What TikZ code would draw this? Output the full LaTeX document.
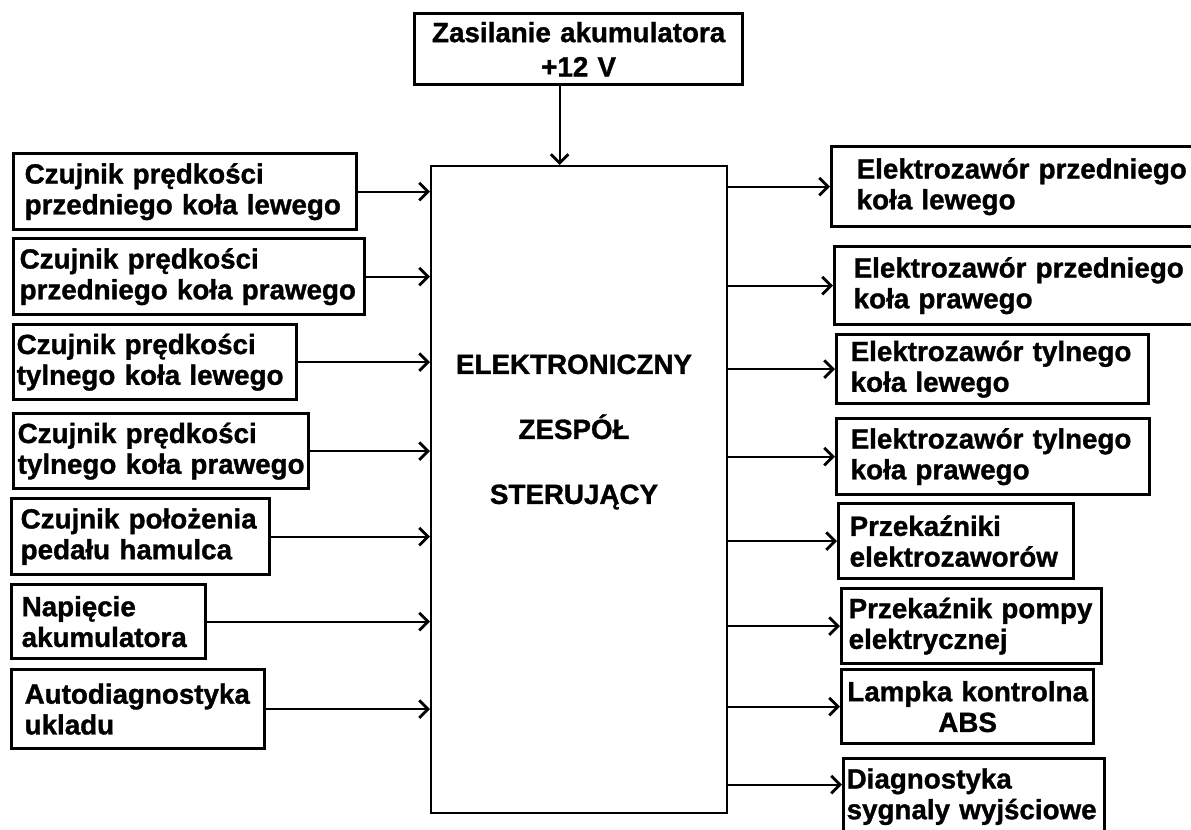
\documentclass[tikz,border=0pt]{standalone}
\usepackage{fontspec}
\setmainfont{Liberation Sans}[BoldFeatures={FakeBold=1.2}]
\usetikzlibrary{arrows.meta}

\begin{document}
\begin{tikzpicture}[x=0.02cm,y=-0.02cm,
  blk/.style={draw,line width=1.9pt,anchor=north west,align=left,inner ysep=0pt,
    font=\fontsize{15.8}{17.5}\selectfont\bfseries},
  arr/.style={line width=1.1pt,-{Straight Barb[length=5pt,width=10pt,line width=1.6pt]}}]
  % Frame
  \clip (0,0) rectangle (1191,829);
  % Control unit
  \node[draw,line width=1.2pt,anchor=north west,minimum width=5.92cm,minimum height=12.94cm] (ecu) at (430,165) {};
  \node[font=\fontsize{15.8}{37}\selectfont\bfseries,align=center] (ecuText) at (574,432) {ELEKTRONICZNY\\ZESPÓŁ\\STERUJĄCY};
  % Supply
  \node[blk,align=center,minimum width=6.56cm,minimum height=1.42cm,text width=6.3cm] (supply) at (413,12) {Zasilanie akumulatora\\[2pt]+12 V};
  \draw[arr] ([xshift=-0.38cm]supply.south) -- ([xshift=-0.38cm]supply.south |- ecu.north);
  % Inputs
  \node[blk,minimum width=6.86cm,minimum height=1.52cm,text width=6.42cm,inner xsep=0.22cm] (inA) at (12,152) {Czujnik prędkości\\przedniego koła lewego};
  \node[blk,minimum width=7.02cm,minimum height=1.52cm,text width=6.78cm,inner xsep=0.12cm] (inB) at (12,237) {Czujnik prędkości\\przedniego koła prawego};
  \node[blk,minimum width=5.66cm,minimum height=1.50cm,text width=5.54cm,inner xsep=0.06cm] (inC) at (12,323) {Czujnik prędkości\\tylnego koła lewego};
  \node[blk,minimum width=5.90cm,minimum height=1.50cm,text width=5.74cm,inner xsep=0.08cm] (inD) at (12,412) {Czujnik prędkości\\tylnego koła prawego};
  \node[blk,minimum width=5.16cm,minimum height=1.52cm,text width=4.80cm,inner xsep=0.18cm] (inE) at (10,497) {Czujnik położenia\\pedału hamulca};
  \node[blk,minimum width=3.88cm,minimum height=1.48cm,text width=3.48cm,inner xsep=0.20cm] (inF) at (10,583) {Napięcie\\akumulatora};
  \node[blk,minimum width=5.06cm,minimum height=1.58cm,text width=4.54cm,inner xsep=0.26cm] (inG) at (10,668) {Autodiagnostyka\\ukladu};
  \foreach \n in {inA,inB,inC,inD,inE,inF,inG}
    \draw[arr] (\n.east) -- (\n.east -| ecu.west);
  % Outputs
  \node[blk,minimum width=8.00cm,minimum height=1.60cm,text width=7.00cm,inner xsep=0.50cm] (outA) at (830,145) {Elektrozawór przedniego\\koła lewego};
  \node[blk,minimum width=8.00cm,minimum height=1.56cm,text width=7.24cm,inner xsep=0.38cm] (outB) at (833,245) {Elektrozawór przedniego\\koła prawego};
  \node[blk,minimum width=6.24cm,minimum height=1.38cm,text width=5.68cm,inner xsep=0.28cm] (outC) at (835,333) {Elektrozawór tylnego\\koła lewego};
  \node[blk,minimum width=6.26cm,minimum height=1.52cm,text width=5.70cm,inner xsep=0.28cm] (outD) at (835,417) {Elektrozawór tylnego\\koła prawego};
  \node[blk,minimum width=4.70cm,minimum height=1.50cm,text width=4.26cm,inner xsep=0.22cm] (outE) at (837,502) {Przekaźniki\\elektrozaworów};
  \node[blk,minimum width=5.20cm,minimum height=1.50cm,text width=4.92cm,inner xsep=0.14cm] (outF) at (840,587) {Przekaźnik pompy\\elektrycznej};
  \node[blk,align=center,minimum width=5.04cm,minimum height=1.48cm,text width=4.88cm,inner xsep=0.08cm] (outG) at (840,668) {Lampka kontrolna\\ABS};
  \node[blk,minimum width=5.22cm,minimum height=1.52cm,text width=5.10cm,inner xsep=0.06cm] (outH) at (842,757) {Diagnostyka\\sygnaly wyjściowe};
  \coordinate (diagIn) at ([yshift=0.24cm]outH.west);
  \foreach \n in {outA,outB,outC,outD,outE,outF,outG,diagIn}
    \draw[arr] (ecu.east |- \n) -- (\n);
\end{tikzpicture}
\end{document}
